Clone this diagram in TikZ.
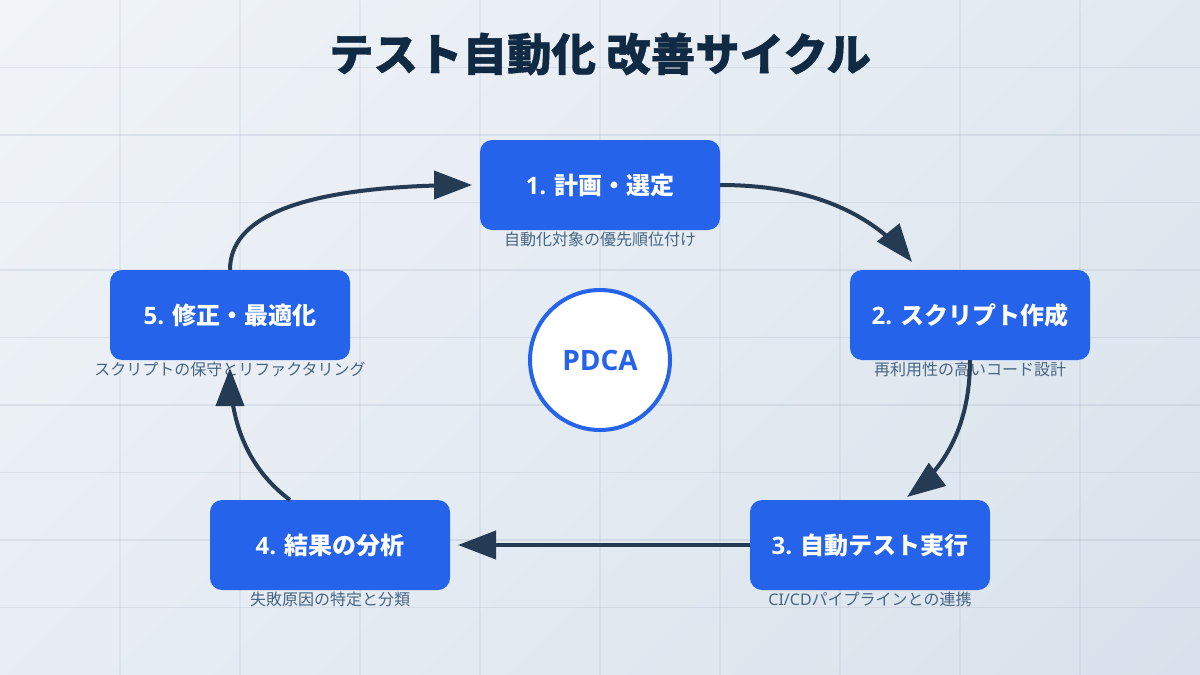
\documentclass[tikz,border=0pt]{standalone}
\usepackage{fontspec}
\usetikzlibrary{arrows.meta,bending}
\setmainfont{Noto Sans CJK JP}
\newfontfamily\lat{Noto Sans}
\newfontfamily\latb{Open Sans}
\newfontfamily\titlefont[BoldFeatures={FakeBold=0.8}]{Noto Sans CJK JP}
\definecolor{titleink}{HTML}{102A43}
\definecolor{arrowink}{HTML}{243B53}
\definecolor{noteink}{HTML}{486581}
\definecolor{stepblue}{HTML}{2563EB}
\definecolor{gridink}{HTML}{94A3B8}
\definecolor{bgstart}{HTML}{F0F4F8}
\definecolor{bgend}{HTML}{D9E2EC}
\pgfdeclarehorizontalshading{bgfade}{100bp}{color(0bp)=(bgstart); color(14.64bp)=(bgstart); color(85.36bp)=(bgend); color(100bp)=(bgend)}
\tikzset{
    gridv/.style={draw=gridink, line width=2pt, opacity=0.13},
    gridh/.style={draw=gridink, line width=1.5pt, opacity=0.2},
    stepbox/.style={fill=stepblue, rounded corners=12pt, minimum width=240pt, minimum height=90pt, inner sep=0pt, text=white, font=\fontsize{24}{28}\selectfont\bfseries},
    notelabel/.style={text=noteink, inner sep=0pt, text height=13pt, text depth=3pt, font=\fontsize{16}{18}\selectfont},
    flowarrow/.style={draw=arrowink, line width=4pt, -{Triangle[length=38pt,width=28pt,flex=0]}}
}
\begin{document}
\begin{tikzpicture}[x=1pt, y=-1pt]
    \useasboundingbox (0, 0) rectangle (1200, 675);

    % Background and grid
    \shade[shading=bgfade, shading angle=-45] (0, 0) rectangle (1200, 675);
    \draw[gridv] (120, 0) -- (120, 675) (240, 0) -- (240, 675) (360, 0) -- (360, 675) (480, 0) -- (480, 675) (600, 0) -- (600, 675) (720, 0) -- (720, 675) (840, 0) -- (840, 675) (960, 0) -- (960, 675) (1080, 0) -- (1080, 675);
    \draw[gridh] (0, 67.5) -- (1200, 67.5) (0, 135) -- (1200, 135) (0, 202.5) -- (1200, 202.5) (0, 270) -- (1200, 270) (0, 337.5) -- (1200, 337.5) (0, 405) -- (1200, 405) (0, 472.5) -- (1200, 472.5) (0, 540) -- (1200, 540) (0, 607.5) -- (1200, 607.5);

    % Title
    \node[text=titleink, inner sep=0pt, font=\titlefont\fontsize{44.5}{50}\selectfont\bfseries] (title) at (600, 54) {テスト自動化 改善サイクル};

    % Steps
    \node[stepbox] (plan) at (600, 185) {{\latb 1. }計画・選定};
    \node[stepbox] (script) at (970, 315) {{\latb 2. }スクリプト作成};
    \node[stepbox] (run) at (870, 545) {{\latb 3. }自動テスト実行};
    \node[stepbox] (result) at (330, 545) {{\latb 4. }結果の分析};
    \node[stepbox] (fix) at (230, 315) {{\latb 5. }修正・最適化};

    % Notes under the steps
    \node[notelabel] (planNote) at (600, 240) {自動化対象の優先順位付け};
    \node[notelabel] (scriptNote) at (970, 370) {再利用性の高いコード設計};
    \node[notelabel] (runNote) at (870, 600) {{\lat CI/CD}パイプラインとの連携};
    \node[notelabel] (resultNote) at (330, 600) {失敗原因の特定と分類};
    \node[notelabel] (fixNote) at (230, 370) {スクリプトの保守とリファクタリング};

    % Centre circle
    \node[circle, draw=stepblue, fill=white, line width=4pt, minimum size=140pt, inner sep=0pt, text=stepblue, font=\latb\fontsize{28}{32}\selectfont\bfseries] (pdca) at (600, 360) {PDCA};

    % Free ends of the arrows
    \coordinate (scriptTip) at (912, 262);
    \coordinate (runTip) at (907, 497);
    \coordinate (resultOut) at (290, 500);
    \coordinate (fixTip) at (230, 368);
    \coordinate (planTip) at (472, 185);
    \coordinate (resultTip) at (458, 545);

    % Arrows for the cycle
    \draw[flowarrow] (plan.east) .. controls (806.7, 185) and (870.7, 210.7) .. (scriptTip);  % 1 -> 2
    \draw[flowarrow] (script.south) .. controls (970, 420) and (949, 465.7) .. (runTip);  % 2 -> 3
    \draw[flowarrow] (run.west) -- (resultTip);  % 3 -> 4
    \draw[flowarrow] (resultOut) .. controls (250, 470) and (230, 426) .. (fixTip);  % 4 -> 5
    \draw[flowarrow] (fix.north) .. controls (230, 213.3) and (310.7, 185) .. (planTip);  % 5 -> 1
\end{tikzpicture}
\end{document}
